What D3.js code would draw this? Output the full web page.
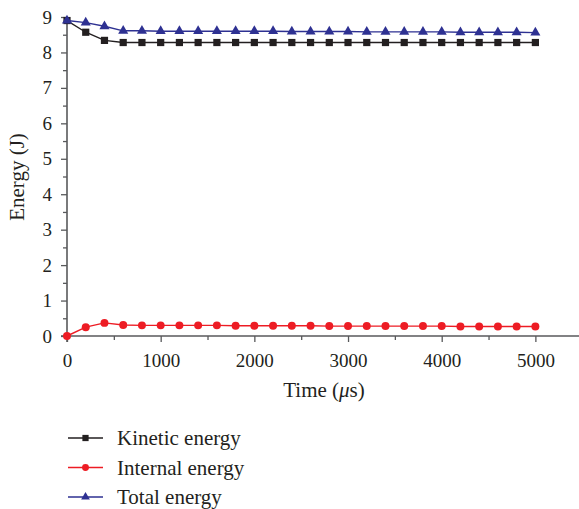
<!DOCTYPE html>
<html>
<head>
<meta charset="utf-8">
<script src="https://cdn.jsdelivr.net/npm/d3@7"></script>
<style>
  body { margin: 0; background: #fff; }
</style>
</head>
<body>
<div id="chart"></div>
<script>
// time points (microseconds)
const times = [0, 200, 400, 600, 800, 1000, 1200, 1400, 1600, 1800, 2000, 2200, 2400, 2600,
  2800, 3000, 3200, 3400, 3600, 3800, 4000, 4200, 4400, 4600, 4800, 5000];
const kinetic = [8.9, 8.57, 8.34, 8.28, 8.28, 8.28, 8.28, 8.28, 8.28, 8.28, 8.28, 8.28, 8.28,
  8.28, 8.28, 8.28, 8.28, 8.28, 8.28, 8.28, 8.28, 8.28, 8.28, 8.28, 8.28, 8.28];
const internal = [0, 0.25, 0.37, 0.31, 0.3, 0.3, 0.3, 0.3, 0.3, 0.29, 0.29, 0.29, 0.29, 0.29,
  0.28, 0.28, 0.28, 0.28, 0.28, 0.28, 0.28, 0.27, 0.27, 0.27, 0.27, 0.27];
const total = [8.9, 8.84, 8.74, 8.61, 8.61, 8.6, 8.6, 8.6, 8.6, 8.6, 8.6, 8.6, 8.59, 8.59,
  8.59, 8.59, 8.58, 8.58, 8.58, 8.58, 8.58, 8.57, 8.57, 8.57, 8.57, 8.56];
const xTicks = [0, 1000, 2000, 3000, 4000, 5000];
const yTicks = [0, 1, 2, 3, 4, 5, 6, 7, 8, 9];

const series = [
  {name: "Kinetic energy", values: kinetic, color: "#231f20", shape: d3.symbolSquare, size: 52},
  {name: "Internal energy", values: internal, color: "#ed1c24", shape: d3.symbolCircle, size: 50},
  {name: "Total energy", values: total, color: "#2e3192", shape: d3.symbolTriangle, size: 44}
];

const FONT = '"Liberation Serif", "Times New Roman", serif';
const width = 579, height = 509;

const svg = d3.select("#chart").append("svg")
  .attr("width", width)
  .attr("height", height)
  .style("font-family", FONT);

const x = d3.scaleLinear()
  .domain([0, 5455])
  .range([67, width - 1]);
const y = d3.scaleLinear()
  .domain([0, 9])
  .range([336, 17]);

// x axis
const xAxisG = svg.append("g")
  .attr("transform", `translate(0, ${y(0)})`);
xAxisG.append("g").call(d3.axisBottom(x).tickValues(d3.range(500, 5455, 1000)).tickSize(4).tickFormat(""));
xAxisG.append("g").call(d3.axisBottom(x).tickValues(xTicks).tickSize(6).tickPadding(12).tickFormat(d3.format("d")));
xAxisG.selectAll(".domain").remove();
xAxisG.append("line")
  .attr("x1", x(0) - 6).attr("x2", width)
  .attr("stroke", "#58595b").attr("stroke-width", 1.6);

// y axis
const yAxisG = svg.append("g")
  .attr("transform", `translate(${x(0)}, 0)`);
yAxisG.append("g").call(d3.axisLeft(y).tickValues(d3.range(0.5, 9, 1)).tickSize(4).tickFormat(""));
yAxisG.append("g").call(d3.axisLeft(y).tickValues(yTicks).tickSize(6).tickPadding(9));
yAxisG.selectAll(".domain").remove();
yAxisG.append("line")
  .attr("y1", y(9)).attr("y2", y(0) + 6)
  .attr("stroke", "#58595b").attr("stroke-width", 1.6);

svg.selectAll(".tick line").attr("stroke", "#58595b").attr("stroke-width", 1.3);
svg.selectAll("g").attr("font-family", null).attr("font-size", null);
svg.selectAll(".tick text").style("font-size", "19px").style("font-family", FONT).attr("fill", "#231f20");

// axis titles
svg.append("text")
  .attr("x", 324).attr("y", 397)
  .attr("text-anchor", "middle")
  .style("font-size", "21px")
  .attr("fill", "#231f20")
  .html('Time (<tspan font-style="italic">μ</tspan>s)');
svg.append("text")
  .attr("transform", `translate(24, 177) rotate(-90)`)
  .attr("text-anchor", "middle")
  .style("font-size", "21px")
  .attr("fill", "#231f20")
  .text("Energy (J)");

// lines and markers
const line = d3.line()
  .x((d, i) => x(times[i]))
  .y(d => y(d));

series.forEach(s => {
  svg.append("path")
    .datum(s.values)
    .attr("fill", "none")
    .attr("stroke", s.color)
    .attr("stroke-width", 1.4)
    .attr("d", line);
  svg.append("g").selectAll("path")
    .data(s.values)
    .enter().append("path")
    .attr("transform", (d, i) => `translate(${x(times[i])}, ${y(d)})`)
    .attr("d", d3.symbol().type(s.shape).size(s.size))
    .attr("fill", s.color);
});

// legend
const legend = svg.append("g");
series.forEach((s, i) => {
  const ly = 438 + i * 29.5;
  legend.append("line")
    .attr("x1", 68).attr("x2", 103)
    .attr("y1", ly).attr("y2", ly)
    .attr("stroke", s.color).attr("stroke-width", 1.4);
  legend.append("path")
    .attr("transform", `translate(85.5, ${ly})`)
    .attr("d", d3.symbol().type(s.shape).size(s.size * 0.75))
    .attr("fill", s.color);
  legend.append("text")
    .attr("x", 117).attr("y", ly + 7)
    .style("font-size", "21px")
    .attr("fill", "#231f20")
    .text(s.name);
});
</script>
</body>
</html>
